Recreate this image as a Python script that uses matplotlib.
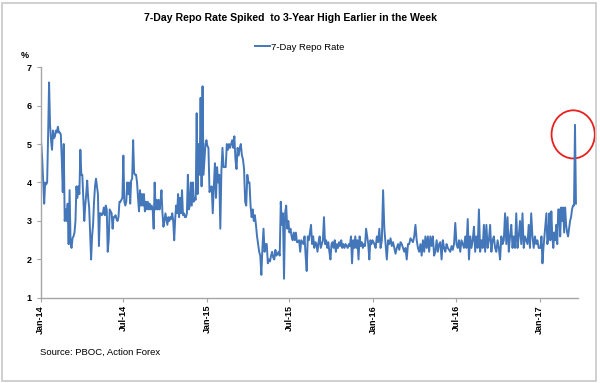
import pandas as pd
import matplotlib
matplotlib.use('Agg')
import matplotlib.pyplot as plt
import matplotlib.dates as mdates
from matplotlib.patches import Ellipse, Rectangle

plt.rcParams['font.family'] = ['Liberation Sans', 'DejaVu Sans']

# 7-day repo rate (%), one list per calendar year
rate_2014 = [5.0, 4.6, 4.0, 3.45, 4.0, 3.95, 4.0, 5.2, 6.6, 5.5, 5.1, 4.85, 5.35, 5.15, 5.2, 5.35,
             5.3, 5.45, 5.3, 5.3, 5.25, 4.6, 3.75, 5.0, 3.0, 3.3, 3.0, 3.45, 2.4, 3.8, 2.4, 2.3,
             2.55, 2.6, 2.7, 3.0, 3.9, 3.6, 3.9, 3.7, 4.85, 4.2, 4.2, 3.6, 3.0, 3.4, 3.7, 4.05,
             3.6, 3.35, 2.7, 2.0, 2.6, 2.9, 3.5, 3.9, 4.1, 3.9, 3.7, 2.35, 3.2, 3.2, 3.15, 3.2,
             3.35, 3.15, 3.4, 3.3, 2.2, 2.5, 3.3, 3.25, 3.2, 2.8, 3.1, 3.1, 3.15, 3.05, 3.0, 3.1,
             3.5, 3.5, 3.55, 3.6, 4.7, 3.5, 3.4, 3.5, 4.0, 3.7, 4.0, 3.45, 4.05, 4.1, 5.1, 4.25,
             4.2, 4.2, 4.0, 3.6, 3.25, 3.8, 3.4, 3.7, 3.4, 3.7, 3.25, 3.5, 3.3, 3.5, 3.3, 3.45,
             3.3, 3.4, 3.3, 2.8, 4.0, 3.3, 3.55, 3.3, 3.55, 3.3, 3.5, 3.8, 3.2, 2.85, 3.0, 3.2,
             3.05, 2.9, 3.1, 3.0, 3.1, 3.05, 3.2, 3.0, 2.5, 3.05, 3.4, 3.2, 3.7, 3.1, 3.6, 3.2,
             3.8, 3.15, 3.2, 3.1, 3.1, 3.2, 4.2, 3.3, 3.4, 4.0, 3.4, 4.0, 3.5, 3.6, 3.55, 5.8,
             3.7, 5.0, 4.2, 6.2, 3.9, 6.5, 4.2, 4.6, 5.0, 5.1]
rate_2015 = [4.95, 4.9, 3.75, 3.85, 3.9, 3.2, 3.9, 4.5, 3.6, 4.4, 4.0, 4.2, 2.8, 4.3, 4.9, 4.4,
             4.4, 4.4, 5.0, 4.85, 5.0, 4.9, 5.0, 5.1, 4.9, 5.2, 4.6, 4.35, 4.9, 4.7, 4.9, 5.0,
             4.7, 4.6, 4.35, 3.5, 3.4, 4.2, 4.0, 4.0, 3.4, 3.1, 3.3, 3.0, 3.15, 2.9, 2.6, 2.4,
             2.2, 2.1, 1.6, 2.3, 2.8, 2.2, 2.4, 2.4, 1.9, 2.0, 1.95, 2.1, 2.2, 2.05, 2.0, 2.25,
             2.1, 2.15, 2.2, 2.1, 3.5, 2.9, 3.2, 1.5, 3.2, 3.4, 2.8, 3.0, 2.7, 2.8, 2.6, 2.5,
             2.7, 2.5, 2.7, 2.45, 2.45, 2.5, 2.2, 2.5, 2.45, 2.4, 2.6, 2.1, 1.7, 2.6, 2.5, 2.7,
             2.9, 2.4, 2.6, 2.3, 2.45, 2.4, 2.2, 2.45, 2.6, 2.3, 2.4, 2.5, 3.1, 2.4, 2.5, 2.3,
             2.45, 2.2, 2.0, 2.4, 2.45, 2.3, 2.5, 2.2, 2.4, 2.3, 2.45, 2.35, 2.5, 2.3, 2.4, 2.3,
             2.4, 2.35, 2.3, 2.4, 2.35, 2.6, 1.9, 2.5, 2.3, 2.6, 2.3, 2.5, 2.0, 2.6, 2.35, 2.45,
             2.3, 2.4, 2.35, 2.8, 2.6, 2.4, 2.0, 2.5, 2.4, 2.5]
rate_2016 = [2.4, 2.3, 2.6, 2.45, 2.8, 2.3, 2.5, 3.8, 2.8, 2.4, 2.0, 2.5, 2.4, 2.55, 2.35, 2.45,
             2.3, 2.15, 2.3, 2.4, 2.25, 2.45, 2.4, 2.3, 2.2, 2.3, 2.0, 2.4, 2.4, 2.55, 2.5, 2.45,
             2.6, 2.9, 2.5, 2.3, 2.2, 2.4, 2.1, 2.5, 2.2, 2.6, 2.3, 2.6, 2.2, 2.6, 2.35, 2.6,
             2.1, 2.2, 2.5, 2.2, 2.4, 2.45, 2.0, 2.5, 2.3, 2.2, 2.4, 2.3, 2.25, 2.2, 2.35, 2.25,
             2.4, 2.95, 2.4, 2.3, 2.5, 2.2, 2.5, 2.4, 2.3, 2.6, 2.3, 3.05, 2.0, 2.6, 2.3, 2.5,
             2.85, 2.2, 2.6, 2.3, 3.3, 2.2, 2.5, 2.3, 2.9, 2.2, 2.9, 2.3, 2.5, 2.9, 2.2, 2.5,
             2.6, 2.3, 2.2, 2.5, 2.3, 2.0, 2.6, 2.4, 2.5, 3.2, 2.4, 3.1, 2.2, 2.6, 2.9, 2.3,
             2.6, 2.3, 3.2, 2.3, 2.6, 3.0, 2.4, 3.2, 2.3, 2.6, 2.5, 2.4, 2.9, 2.3, 3.2, 2.6,
             2.3, 2.6, 2.4, 2.5, 2.3]
rate_2017 = [2.3, 2.6, 1.9, 2.3, 2.6, 2.9, 3.2, 2.4, 2.6, 3.2, 2.5, 3.25, 2.6, 2.3, 2.7, 2.5,
             2.9, 2.4, 3.3, 3.3, 2.6, 3.35, 3.0, 3.35, 2.7, 3.35, 2.9, 2.7, 2.6, 2.8, 3.0, 3.1,
             3.3, 3.4, 3.4, 5.5, 3.45]

year_spans = [('2014-01-02', '2014-12-31', rate_2014),
              ('2015-01-02', '2015-12-31', rate_2015),
              ('2016-01-04', '2016-12-30', rate_2016),
              ('2017-01-03', '2017-03-22', rate_2017)]

# spread each year's readings evenly over that year's trading span
parts = []
for start, end, vals in year_spans:
    idx = pd.date_range(start, end, periods=len(vals))
    parts.append(pd.Series(vals, index=idx))
repo = pd.concat(parts)

line_color = '#4477b9'
grey = '#a6a6a6'

fig = plt.figure(figsize=(6, 3.83), dpi=100)
ax = fig.add_axes([0.068, 0.222, 0.895, 0.603])

ax.plot(repo.index, repo.values, color=line_color, lw=1.4, label='7-Day Repo Rate')

ax.set_ylim(1, 7)
ax.set_yticks(range(1, 8))
ax.set_xlim(pd.Timestamp('2014-01-01'), pd.Timestamp('2017-03-26'))
ax.xaxis.set_major_locator(mdates.MonthLocator(bymonth=[1, 7]))
ax.xaxis.set_major_formatter(mdates.DateFormatter('%b-%y'))

for side in ['top', 'right']:
    ax.spines[side].set_visible(False)
for side in ['left', 'bottom']:
    ax.spines[side].set_color(grey)
    ax.spines[side].set_linewidth(1.0)
ax.tick_params(axis='both', colors=grey, length=3, width=0.8, labelcolor='black', labelsize=6.5)
ax.tick_params(axis='x', labelrotation=90, pad=2)
for lbl in ax.get_xticklabels() + ax.get_yticklabels():
    lbl.set_fontweight('bold')

# red circle round the spike (second-to-last reading)
spike_day = repo.index[-2]
circle = Ellipse((mdates.date2num(spike_day) - 4, repo.iloc[-2] - 0.25), width=95, height=1.25,
                 fill=False, edgecolor='#e8201e', lw=1.3, clip_on=False)
ax.add_patch(circle)

ax.text(-0.022, 1.05, '%', transform=ax.transAxes, ha='right', va='center', fontsize=6.5, fontweight='bold')

fig.text(0.485, 0.952, '7-Day Repo Rate Spiked  to 3-Year High Earlier in the Week',
         ha='center', va='center', fontsize=7.6, fontweight='bold')
fig.legend(loc='center', bbox_to_anchor=(0.5, 0.877), frameon=False, fontsize=6.8,
           handlelength=1.6, handletextpad=0.1)
fig.text(0.067, 0.081, 'Source: PBOC, Action Forex', ha='left', va='center', fontsize=6.8)

fig.patches.append(Rectangle((0.004, 0.006), 0.99, 0.986, transform=fig.transFigure,
                             fill=False, edgecolor='#c8c8c8', lw=1.2))

fig.savefig('out.png', dpi=100)
